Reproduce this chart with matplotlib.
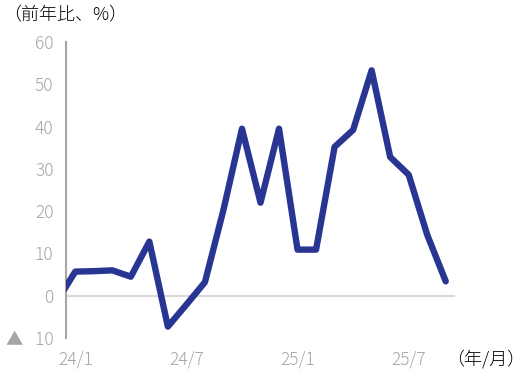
import matplotlib
matplotlib.use("Agg")
import matplotlib.pyplot as plt

# data: month index -1 is 23/12 (partly clipped at left edge)
months = ["23/12", "24/1", "24/2", "24/3", "24/4", "24/5", "24/6", "24/7", "24/8", "24/9",
          "24/10", "24/11", "24/12", "25/1", "25/2", "25/3", "25/4", "25/5", "25/6",
          "25/7", "25/8", "25/9"]
values = [-1.4, 5.7, 5.8, 6.0, 4.5, 12.8, -7.3, -2.1, 3.2, 20.3, 39.5, 22.0, 39.5,
          10.9, 10.9, 35.2, 39.2, 53.3, 32.8, 28.6, 14.4, 3.4]
xtick_labels = ["24/1", "24/7", "25/1", "25/7"]
ytick_values = [-10, 0, 10, 20, 30, 40, 50, 60]
ytick_labels = ["▲   10", "0", "10", "20", "30", "40", "50", "60"]

plt.rcParams['font.family'] = ['Noto Sans CJK JP', 'DejaVu Sans']

fig = plt.figure(figsize=(5.25, 3.77), dpi=100)
ax = fig.add_axes([66/525, 1-338/377, (455-66)/525, (338-42)/377])

xs = list(range(-1, len(values) - 1))
ax.plot(xs, values, color="#283593", lw=4.6, solid_joinstyle="round",
        solid_capstyle="round", zorder=3)
ax.axhline(0, color="#d9d9d9", lw=1.5, zorder=1)

ax.set_xlim(-0.5, 20.5)
ax.set_ylim(-10, 60)

for s in ["top", "right", "bottom"]:
    ax.spines[s].set_visible(False)
ax.spines["left"].set_color("#a6a6a6")
ax.spines["left"].set_linewidth(1.5)

tick_pos = [months.index(m) - 1 for m in xtick_labels]
ax.set_xticks(tick_pos)
ax.set_xticklabels(xtick_labels)
ax.set_yticks(ytick_values)
ax.set_yticklabels(ytick_labels)
ax.tick_params(axis="both", length=0, colors="#a6a6a6", labelsize=12.5)
ax.tick_params(axis="y", pad=9)
ax.tick_params(axis="x", pad=9)
for lab in ax.get_xticklabels() + ax.get_yticklabels():
    lab.set_fontweight("light")

fig.text(3/525, 1-15/377, "（前年比、%）", fontsize=13, color="#000000",
         ha="left", va="center", fontweight="light")
fig.text(446/525, 1-359/377, "（年/月）", fontsize=13, color="#000000",
         ha="left", va="center", fontweight="light")

fig.savefig("out.png", dpi=100)
